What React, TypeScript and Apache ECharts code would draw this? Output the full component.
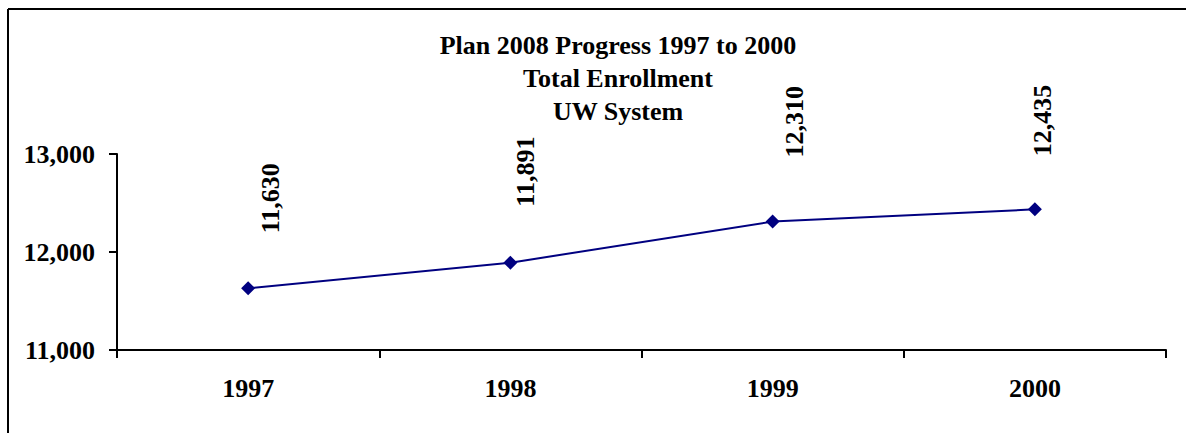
import React, { useEffect, useRef } from "react";
import * as echarts from "echarts";

const TITLE_LINES = ["Plan 2008 Progress 1997 to 2000", "Total Enrollment", "UW System"];
const YEARS = ["1997", "1998", "1999", "2000"];
const ENROLLMENT = [11630, 11891, 12310, 12435];
const Y_MIN = 11000;
const Y_MAX = 13000;
const Y_STEP = 1000;

// label placement (style only)
const LABEL_DX = [22, 15, 22, 8];
const LABEL_DIST = [48, 49, 57, 46];

const FONT = '"Liberation Serif", "Times New Roman", serif';
const NAVY = "#000080";

const fmt = (v: number) => v.toLocaleString("en-US");

export default function App() {
  const ref = useRef<HTMLDivElement>(null);
  useEffect(() => {
    if (!ref.current) return;
    const chart = echarts.init(ref.current, undefined, { renderer: "svg" });
    chart.setOption({
      animation: false,
      backgroundColor: "#ffffff",
      title: {
        text: TITLE_LINES.join("\n"),
        left: 618,
        top: 29,
        textAlign: "center",
        padding: 0,
        textStyle: {
          fontFamily: FONT,
          fontWeight: "bold",
          fontSize: 26,
          lineHeight: 33,
          color: "#000",
        },
      },
      graphic: [
        { type: "line", shape: { x1: 8, y1: 9, x2: 1186, y2: 9 }, style: { stroke: "#000", lineWidth: 2 } },
        { type: "line", shape: { x1: 8, y1: 9, x2: 8, y2: 433 }, style: { stroke: "#000", lineWidth: 2 } },
      ],
      grid: { left: 117, right: 20, top: 154, bottom: 83, containLabel: false },
      xAxis: {
        type: "category",
        data: YEARS,
        boundaryGap: true,
        axisLine: { lineStyle: { color: "#000", width: 2 } },
        axisTick: { show: true, length: 8, lineStyle: { color: "#000", width: 2 } },
        axisLabel: {
          fontFamily: FONT,
          fontWeight: "bold",
          fontSize: 26,
          color: "#000",
          margin: 25,
        },
        splitLine: { show: false },
      },
      yAxis: {
        type: "value",
        min: Y_MIN,
        max: Y_MAX,
        interval: Y_STEP,
        axisLine: { show: true, lineStyle: { color: "#000", width: 2 } },
        axisTick: { show: true, length: 8, lineStyle: { color: "#000", width: 2 } },
        axisLabel: {
          fontFamily: FONT,
          fontWeight: "bold",
          fontSize: 26,
          color: "#000",
          margin: 22,
          formatter: (v: number) => fmt(v),
        },
        splitLine: { show: false },
      },
      series: [
        {
          type: "line",
          data: ENROLLMENT.map((v, i) => ({
            value: v,
            label: {
              show: true,
              position: "top",
              rotate: 90,
              align: "left",
              verticalAlign: "middle",
              distance: LABEL_DIST[i],
              offset: [0, LABEL_DX[i]],
            },
          })),
          symbol: "diamond",
          symbolSize: 14,
          lineStyle: { color: NAVY, width: 2 },
          itemStyle: { color: NAVY },
          label: {
            show: true,
            fontFamily: FONT,
            fontWeight: "bold",
            fontSize: 26,
            color: "#000",
            formatter: (p: any) => fmt(p.value),
          },
        },
      ],
    });
    return () => chart.dispose();
  }, []);
  return (
    <div
      ref={ref}
      style={{ position: "fixed", left: 0, top: 0, width: 1186, height: 433 }}
    />
  );
}
